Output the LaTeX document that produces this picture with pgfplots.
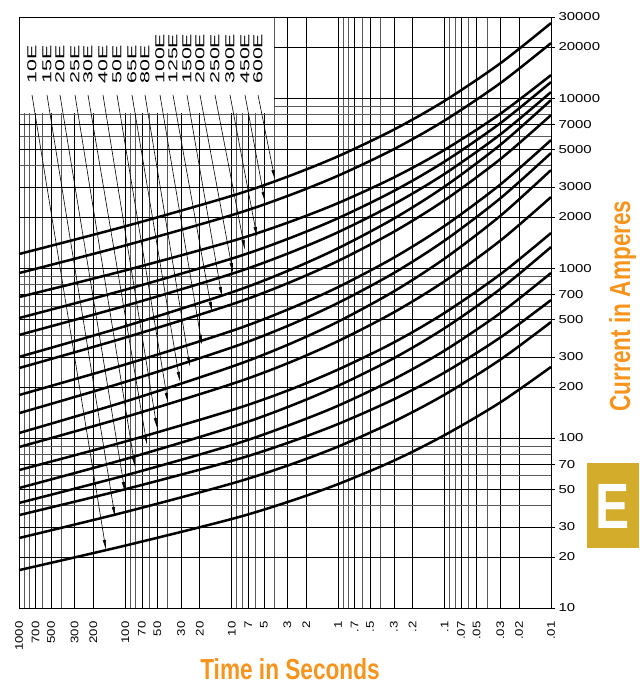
\documentclass[border=0pt]{standalone}
\usepackage{graphicx}
\usepackage{pgfplots}
\pgfplotsset{compat=1.18}
\usepackage{pgfplotstable}
\usepackage{fontspec}
\setmainfont{Liberation Sans}
\usetikzlibrary{arrows.meta}
\definecolor{fuseorange}{RGB}{247,148,29}
\definecolor{fusegold}{RGB}{212,172,44}
\newcommand{\xl}[1]{\scalebox{1.2}[1]{#1}}
\newcommand{\yl}[1]{\scalebox{1.3}[1]{#1}}

% minimum melting current (A) of each fuse rating at a given time (s)
\pgfplotstableread{
t     e10  e15  e20  e25  e30  e40  e50  e65  e80  e100 e125 e150 e200  e250  e300  e450  e600
1000  16.7 25.8 35.2 41.5 50.8 64.8 88.5 107  140  179  258  300  404   508   675   934   1209
100   23.3 36.7 50.0 60.3 75.2 95.4 133  164  214  271  390  455  600   746   969   1359  1762
10    33.4 54.0 73.4 90.9 116  146  208  263  341  427  612  720  925   1137  1440  2049  2660
3     42.0 68.8 93.5 118  152  190  275  353  456  569  813  961  1215  1482  1848  2653  3448
1     53.6 89.1 121  155  203  253  372  484  624  773  1102 1309 1627  1967  2413  3497  4550
0.3   73.6 125  169  222  295  365  549  729  935  1151 1635 1954 2376  2842  3411  5005  6522
0.1   104  180  243  327  443  545  837  1137 1451 1770 2506 3016 3583  4234  4962  7382  9634
0.03  162  289  390  543  752  918  1449 2026 2570 3099 4370 5304 6109  7112  8079  12236 16004
0.01  262  481  648  935  1329 1607 2616 3771 4748 5661 7943 9732 10846 12421 13654 21061 27620
}\fusedata

\begin{document}
\begin{tikzpicture}
\useasboundingbox (0,0) rectangle (639pt,684pt);
\begin{axis}[
    at={(19pt,76pt)}, anchor=south west,
    scale only axis, width=532pt, height=591pt,
    xmode=log, ymode=log, x dir=reverse,
    xmin=0.01, xmax=1000, ymin=10, ymax=30000,
    xtick={1000,700,500,300,200,100,70,50,30,20,10,7,5,3,2,1,0.7,0.5,0.3,0.2,0.1,0.07,0.05,0.03,0.02,0.01},
    xticklabels={\xl{1000},\xl{700},\xl{500},\xl{300},\xl{200},\xl{100},\xl{70},\xl{50},\xl{30},\xl{20},\xl{10},\xl{7},\xl{5},\xl{3},\xl{2},\xl{1},\xl{.7},\xl{.5},\xl{.3},\xl{.2},\xl{.1},\xl{.07},\xl{.05},\xl{.03},\xl{.02},\xl{.01}},
    minor xtick={900,800,600,400,90,80,60,40,9,8,6,4,0.9,0.8,0.6,0.4,0.09,0.08,0.06,0.04},
    ytick={10,20,30,50,70,100,200,300,500,700,1000,2000,3000,5000,7000,10000,20000,30000},
    yticklabels={\yl{10},\yl{20},\yl{30},\yl{50},\yl{70},\yl{100},\yl{200},\yl{300},\yl{500},\yl{700},\yl{1000},\yl{2000},\yl{3000},\yl{5000},\yl{7000},\yl{10000},\yl{20000},\yl{30000}},
    minor ytick={40,60,80,90,400,600,800,900,4000,6000,8000,9000},
    grid=both,
    major grid style={black, line width=0.65pt},
    minor grid style={black!65, line width=0.5pt},
    axis line style={line width=0.8pt},
    xtick style={draw=none},
    minor tick length=0pt,
    ytick pos=right, yticklabel pos=right,
    tick align=outside, major tick length=4pt,
    ytick style={black, line width=0.6pt},
    xticklabel style={font=\fontsize{11}{11}\selectfont, rotate=90, anchor=east},
    xticklabel shift=6pt,
    yticklabel style={font=\fontsize{11.5}{11.5}\selectfont, anchor=west},
    curve/.style={black, line width=2.5pt, smooth, no markers},
]
\fill[white] (axis cs:1000,8150) rectangle (axis cs:4.05,30000);
\draw[line width=0.8pt] (rel axis cs:0,0) rectangle (rel axis cs:1,1);
\pgfplotsinvokeforeach{e10,e15,e20,e25,e30,e40,e50,e65,e80,e100,e125,e150,e200,e250,e300,e450,e600}{
    \addplot[curve] table[x=t, y=#1] {\fusedata};
}
\end{axis}

% rating labels with pointers to their curves
\foreach \lab/\lx/\tx/\ty in {10E/32/106/550, 15E/47/115/517, 20E/60/125/492, 25E/75/135/467,
    30E/88/147/445, 40E/103/157/428, 50E/117/168/403, 65E/132/180/382, 80E/145/190/367,
    100E/160/202/345, 125E/173/212/312, 150E/187/222/297, 200E/200/233/273,
    250E/215/245/250, 300E/230/257/237, 450E/245/265/202, 600E/258/275/180}{
    \node[rotate=90, anchor=west, inner sep=0pt, font=\fontsize{13}{13}\selectfont]
        at (\lx pt,600pt) {\scalebox{1.65}[1]{\lab}};
    \draw[line width=0.6pt, -{Latex[length=10pt,width=3.4pt]}]
        (\lx pt,589pt) -- (\tx pt,{684pt-\ty pt});
}

\node[anchor=base, text=fuseorange, font=\fontsize{29}{29}\selectfont\bfseries]
    at (290pt,5pt) {\scalebox{0.78}[1]{Time in Seconds}};
\node[rotate=90, anchor=base, text=fuseorange, font=\fontsize{29}{29}\selectfont\bfseries]
    at (630pt,378pt) {\scalebox{0.78}[1]{Current in Amperes}};
\fill[fusegold] (587pt,136pt) rectangle (639pt,221pt);
\node[text=white, font=\fontsize{64}{64}\selectfont\bfseries, inner sep=0pt]
    at (613pt,178pt) {\scalebox{0.8}[1]{E}};
\end{tikzpicture}
\end{document}
